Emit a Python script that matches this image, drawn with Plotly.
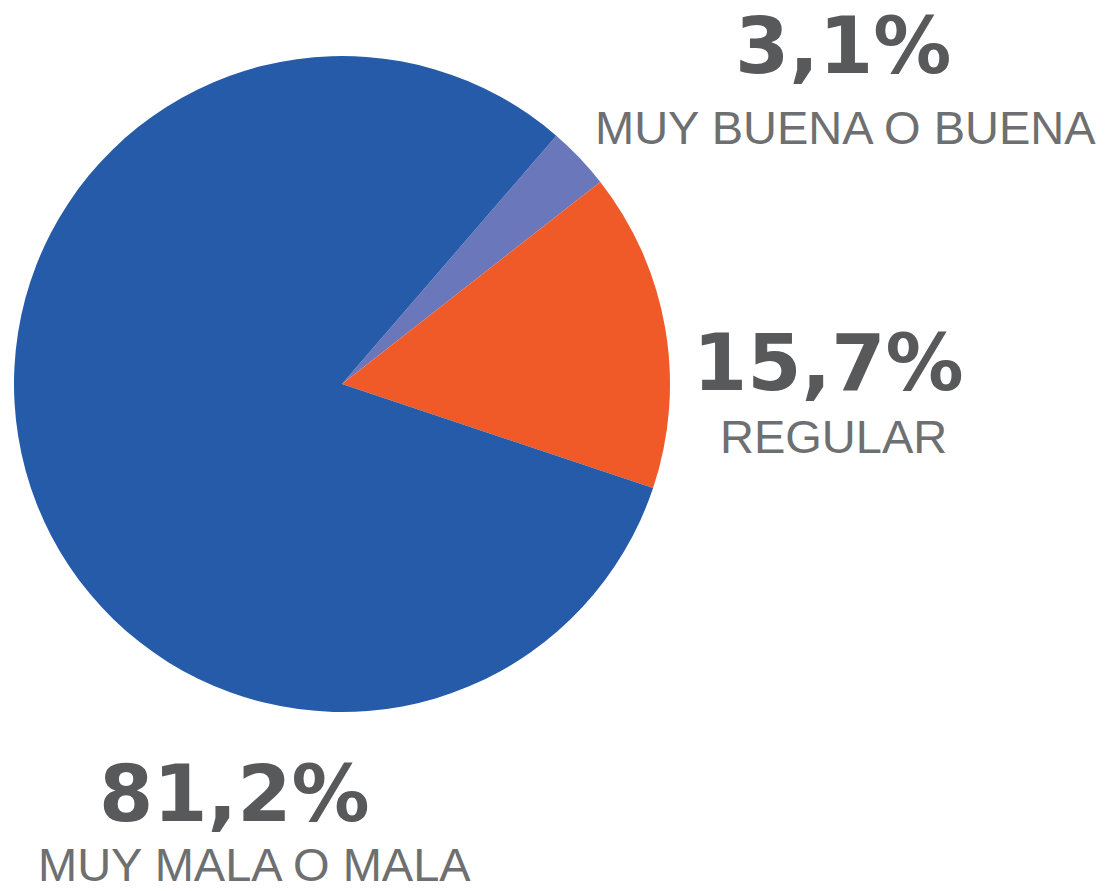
import plotly.graph_objects as go

labels = ["MUY BUENA O BUENA", "REGULAR", "MUY MALA O MALA"]
values = [3.1, 15.7, 81.2]
value_texts = ["3,1%", "15,7%", "81,2%"]
colors = ["#6a78bb", "#f05a28", "#255ba8"]

W, H = 1106, 891
cx, cy, r = 342, 384, 328

fig = go.Figure(go.Pie(
    labels=labels,
    values=values,
    sort=False,
    direction="clockwise",
    rotation=40.8,
    marker=dict(colors=colors, line=dict(width=0)),
    textinfo="none",
    hoverinfo="label+percent",
    domain=dict(x=[(cx - r) / W, (cx + r) / W], y=[(H - cy - r) / H, (H - cy + r) / H]),
    showlegend=False,
))

# label positions (pixel centers)
num_pos = [(843, 46), (828, 363), (234, 794)]
lab_pos = [(845, 127), (833, 436), (254, 864)]

for i in range(len(labels)):
    nx, ny = num_pos[i]
    lx, ly = lab_pos[i]
    fig.add_annotation(x=nx / W, y=1 - ny / H, xref="paper", yref="paper",
                       text=value_texts[i], showarrow=False, xanchor="center", yanchor="middle",
                       font=dict(family="DejaVu Sans", size=78, color="#58595b", weight="bold"))
    fig.add_annotation(x=lx / W, y=1 - ly / H, xref="paper", yref="paper",
                       text=labels[i], showarrow=False, xanchor="center", yanchor="middle",
                       font=dict(family="Liberation Sans", size=47, color="#6d6f70"))

fig.update_layout(width=W, height=H, margin=dict(l=0, r=0, t=0, b=0),
                  paper_bgcolor="white", plot_bgcolor="white")
fig.write_html("out.html", config={"displayModeBar": False},
               post_script="document.body.style.margin='0';document.body.style.overflow='hidden';")
